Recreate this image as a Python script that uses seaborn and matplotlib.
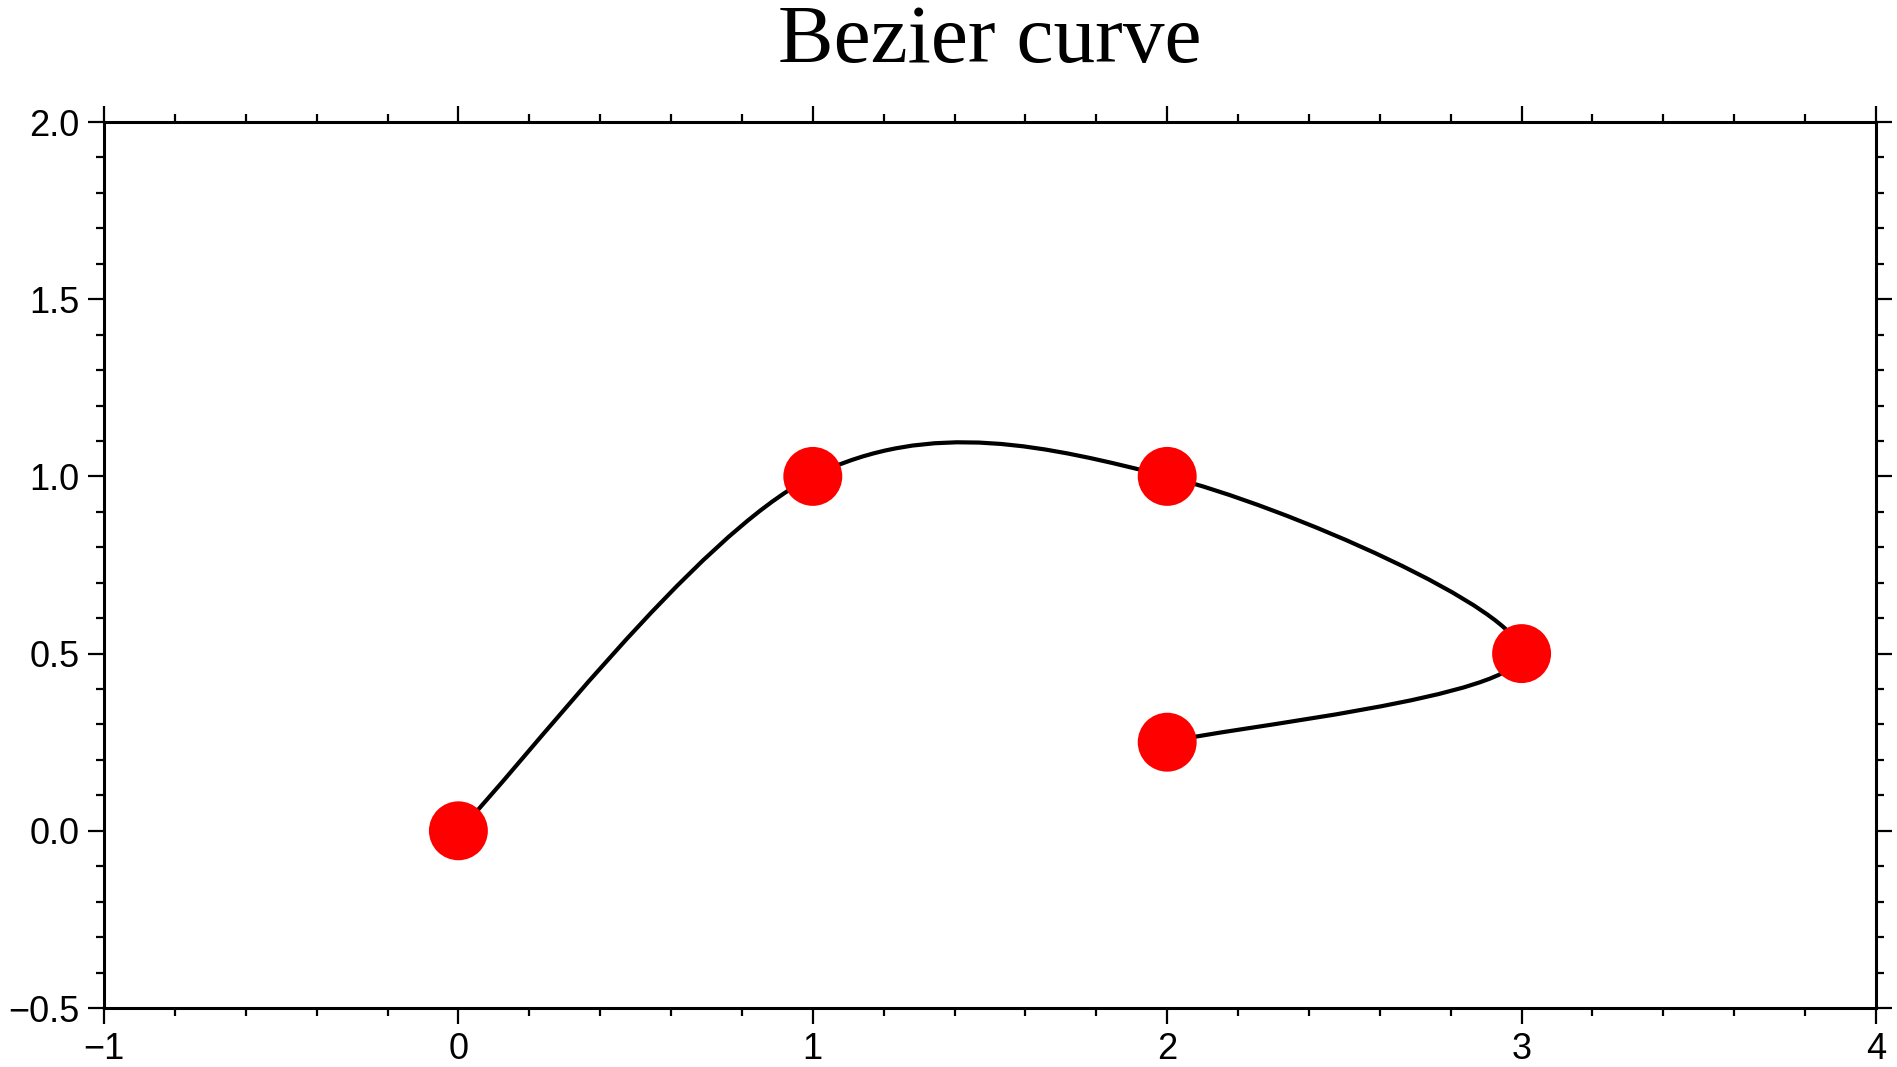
import numpy as np
import pandas as pd
import matplotlib
matplotlib.use('Agg')
import matplotlib.pyplot as plt
from matplotlib.path import Path
from matplotlib.patches import PathPatch
from matplotlib.ticker import MultipleLocator, FuncFormatter
import seaborn as sns

# Datos: puntos por los que pasa la curva de Bezier
x_pts = [0, 1, 2, 3, 2]
y_pts = [0, 1, 1, 0.5, 0.25]
titulo = 'Bezier curve'

df = pd.DataFrame({'x': x_pts, 'y': y_pts})

sns.set_theme(style='ticks')
plt.rcParams['font.family'] = ['Liberation Sans', 'DejaVu Sans']

fig = plt.figure(figsize=(18.97, 10.67), dpi=100)
ax = fig.add_axes([104 / 1897, 1 - 1008 / 1067, (1876 - 104) / 1897, (1008 - 122) / 1067])

# Puntos de control tipo Catmull-Rom a partir de los puntos dados
p = df[['x', 'y']].to_numpy(dtype=float)
ext = np.vstack([p[0], p, p[-1]])
verts = [tuple(p[0])]
codes = [Path.MOVETO]
for i in range(len(p) - 1):
    c1 = p[i] + (ext[i + 2] - ext[i]) / 6
    c2 = p[i + 1] - (ext[i + 3] - ext[i + 1]) / 6
    verts += [tuple(c1), tuple(c2), tuple(p[i + 1])]
    codes += [Path.CURVE4] * 3
ax.add_patch(PathPatch(Path(verts, codes), facecolor='none', edgecolor='black', lw=3.0, zorder=2))

sns.scatterplot(data=df, x='x', y='y', ax=ax, s=1800, color='red', edgecolor='none', zorder=3, legend=False)

ax.set_xlim(-1, 4)
ax.set_ylim(-0.5, 2.0)
ax.xaxis.set_major_locator(MultipleLocator(1))
ax.xaxis.set_minor_locator(MultipleLocator(0.2))
ax.yaxis.set_major_locator(MultipleLocator(0.5))
ax.yaxis.set_minor_locator(MultipleLocator(0.1))
ax.xaxis.set_major_formatter(FuncFormatter(lambda v, pos: f'{v:.0f}'.replace('-', '\u2212')))
ax.yaxis.set_major_formatter(FuncFormatter(lambda v, pos: f'{v:.1f}'.replace('-', '\u2212')))
ax.set_xlabel('')
ax.set_ylabel('')

for s in ax.spines.values():
    s.set_visible(True)
    s.set_linewidth(2.2)
    s.set_color('black')
ax.tick_params(which='both', direction='out', top=True, right=True, color='black', width=1.6)
ax.tick_params(which='major', length=11.5, labelsize=26, pad=6, labelcolor='black')
ax.tick_params(which='minor', length=5.8)

# titulo centrado sobre el eje
ax.set_title(titulo, fontsize=60, color='black', pad=43,
             family=['Liberation Serif', 'DejaVu Serif'])
ax.title.set_va('baseline')

plt.savefig('out.png', dpi=100)
